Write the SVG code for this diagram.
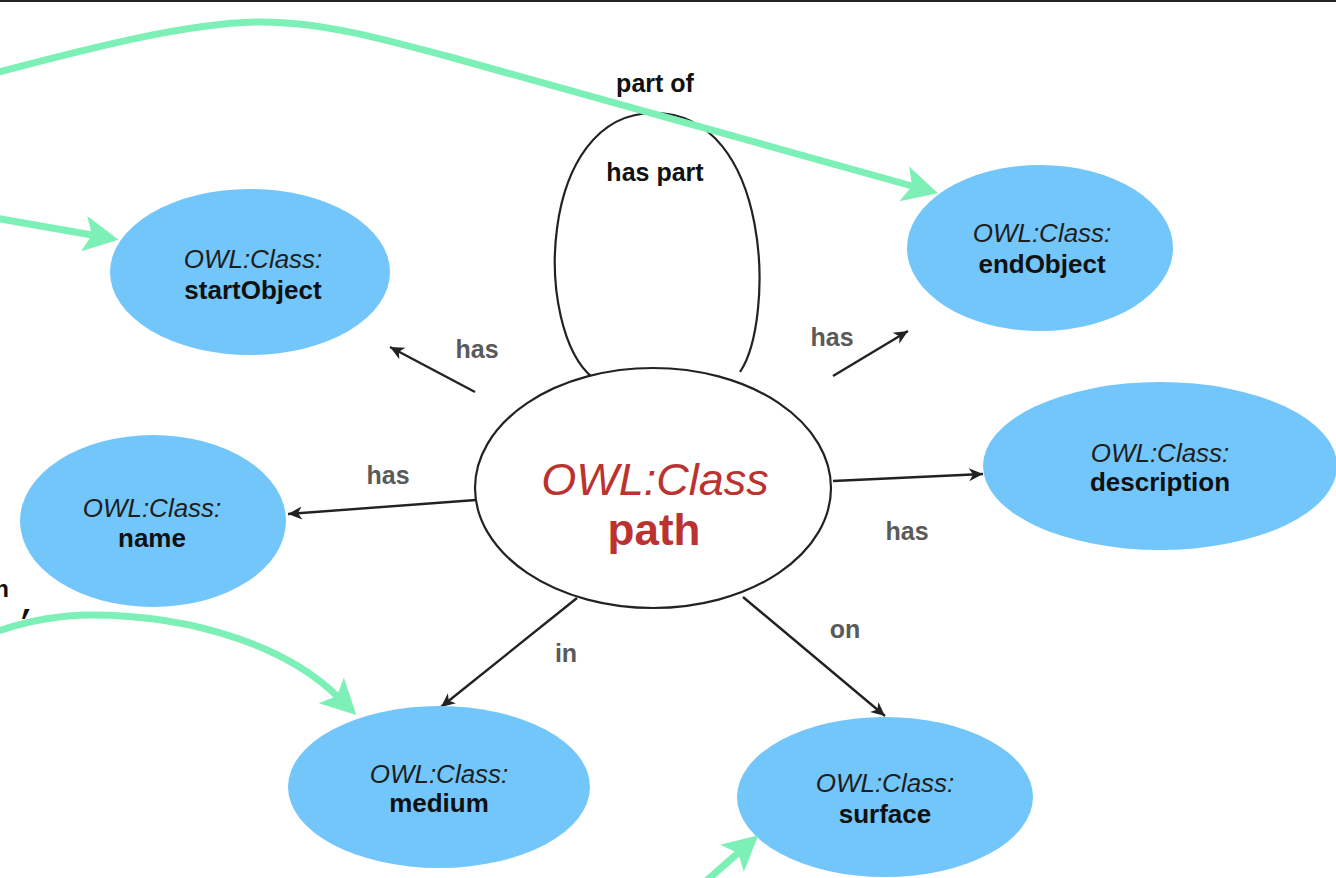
<svg xmlns="http://www.w3.org/2000/svg" width="1336" height="878" viewBox="0 0 1336 878">
<style>
.node{fill:#73c6fa}
.cls{font-family:"Liberation Sans",Arial,sans-serif;font-size:26px;font-style:italic;fill:#1e1e1e;text-anchor:middle}
.nm{font-family:"Liberation Sans",Arial,sans-serif;font-size:26px;font-weight:bold;fill:#111;text-anchor:middle}
.lbl{font-family:"Liberation Sans",Arial,sans-serif;font-size:25px;font-weight:bold;fill:#5a5a5a;text-anchor:middle}
.lblk{font-family:"Liberation Sans",Arial,sans-serif;font-size:25px;font-weight:bold;fill:#111;text-anchor:middle}
.edge{fill:none;stroke:#222;stroke-width:2.4}
.green{fill:none;stroke:#7cf0b6;stroke-width:7;stroke-linecap:butt}
</style>
<defs>
<marker id="ah" viewBox="-16 -8 18 16" refX="0" refY="0" markerWidth="18" markerHeight="16" markerUnits="userSpaceOnUse" orient="auto">
<path d="M 0 0 L -14 -6.5 L -10 0 L -14 6.5 Z" fill="#222"/>
</marker>
<marker id="gh" viewBox="-12 -20 42 40" refX="0" refY="0" markerWidth="42" markerHeight="40" markerUnits="userSpaceOnUse" orient="auto">
<path d="M 27 0 L -8 -18 L 0 0 L -8 18 Z" fill="#7cf0b6"/>
</marker>
</defs>
<rect width="1336" height="878" fill="#fff"/>
<rect x="0" y="0" width="1336" height="2" fill="#262626"/>

<g id="loop">
<path d="M 593 378 C 533 330 537 113 654 113 C 772 113 775 320 740 372" fill="none" stroke="#222" stroke-width="2.2"/>
</g>

<g id="connectors">
<path class="edge" d="M 475 392 L 390 347" marker-end="url(#ah)"/>
<path class="edge" d="M 833 376 L 908 331" marker-end="url(#ah)"/>
<path class="edge" d="M 476 500 L 288 514" marker-end="url(#ah)"/>
<path class="edge" d="M 833 481 L 983 474" marker-end="url(#ah)"/>
<path class="edge" d="M 577 598 L 441 707" marker-end="url(#ah)"/>
<path class="edge" d="M 743 597 L 885 716" marker-end="url(#ah)"/>
</g>

<g id="path-class">
<ellipse cx="653" cy="488" rx="178" ry="120" fill="#fff" stroke="#222" stroke-width="2.2"/>
<text x="655" y="495" font-family="'Liberation Sans',Arial,sans-serif" font-size="45" font-style="italic" fill="#bb3330" text-anchor="middle">OWL:Class</text>
<text x="654" y="545" font-family="'Liberation Sans',Arial,sans-serif" font-size="44" font-weight="bold" fill="#bb3330" text-anchor="middle">path</text>
</g>

<g id="startObject">
<ellipse class="node" cx="250" cy="272" rx="140" ry="83"/>
<text class="cls" x="253" y="268">OWL:Class:</text>
<text class="nm" x="253" y="299">startObject</text>
</g>
<g id="endObject">
<ellipse class="node" cx="1040" cy="248" rx="133" ry="83"/>
<text class="cls" x="1042" y="242">OWL:Class:</text>
<text class="nm" x="1042" y="273">endObject</text>
</g>
<g id="name">
<ellipse class="node" cx="153" cy="521" rx="133" ry="86"/>
<text class="cls" x="152" y="517">OWL:Class:</text>
<text class="nm" x="152" y="547">name</text>
</g>
<g id="description">
<ellipse class="node" cx="1160" cy="466" rx="177" ry="84"/>
<text class="cls" x="1160" y="462">OWL:Class:</text>
<text class="nm" x="1160" y="491">description</text>
</g>
<g id="medium">
<ellipse class="node" cx="439" cy="787" rx="151" ry="81"/>
<text class="cls" x="439" y="783">OWL:Class:</text>
<text class="nm" x="439" y="812">medium</text>
</g>
<g id="surface">
<ellipse class="node" cx="885" cy="797" rx="148" ry="80"/>
<text class="cls" x="885" y="792">OWL:Class:</text>
<text class="nm" x="885" y="823">surface</text>
</g>

<g id="labels">
<text class="lblk" x="655" y="92">part of</text>
<text class="lblk" x="655" y="181">has part</text>
<text class="lbl" x="477" y="358">has</text>
<text class="lbl" x="832" y="346">has</text>
<text class="lbl" x="388" y="484">has</text>
<text class="lbl" x="907" y="540">has</text>
<text class="lbl" x="566" y="662">in</text>
<text class="lbl" x="845" y="638">on</text>
</g>

<g id="green-arrows">
<path class="green" d="M -5 73 C 90 48 190 22 262 22 C 320 22 380 38 450 57 L 912 186" marker-end="url(#gh)"/>
<path class="green" d="M -5 218 L 92 235" marker-end="url(#gh)"/>
<path class="green" d="M -5 632 C 30 620 60 615 90 615 C 200 615 290 650 337 696" marker-end="url(#gh)"/>
<path class="green" d="M 705 882 L 738 853" marker-end="url(#gh)"/>
</g>

<g id="fragment">
<text x="9" y="597" font-family="'Liberation Mono',monospace" font-size="24" font-weight="bold" fill="#111" text-anchor="end">n</text>
<text x="18" y="613" font-family="'Liberation Mono',monospace" font-size="32" font-weight="bold" fill="#111">,</text>
</g>
</svg>
